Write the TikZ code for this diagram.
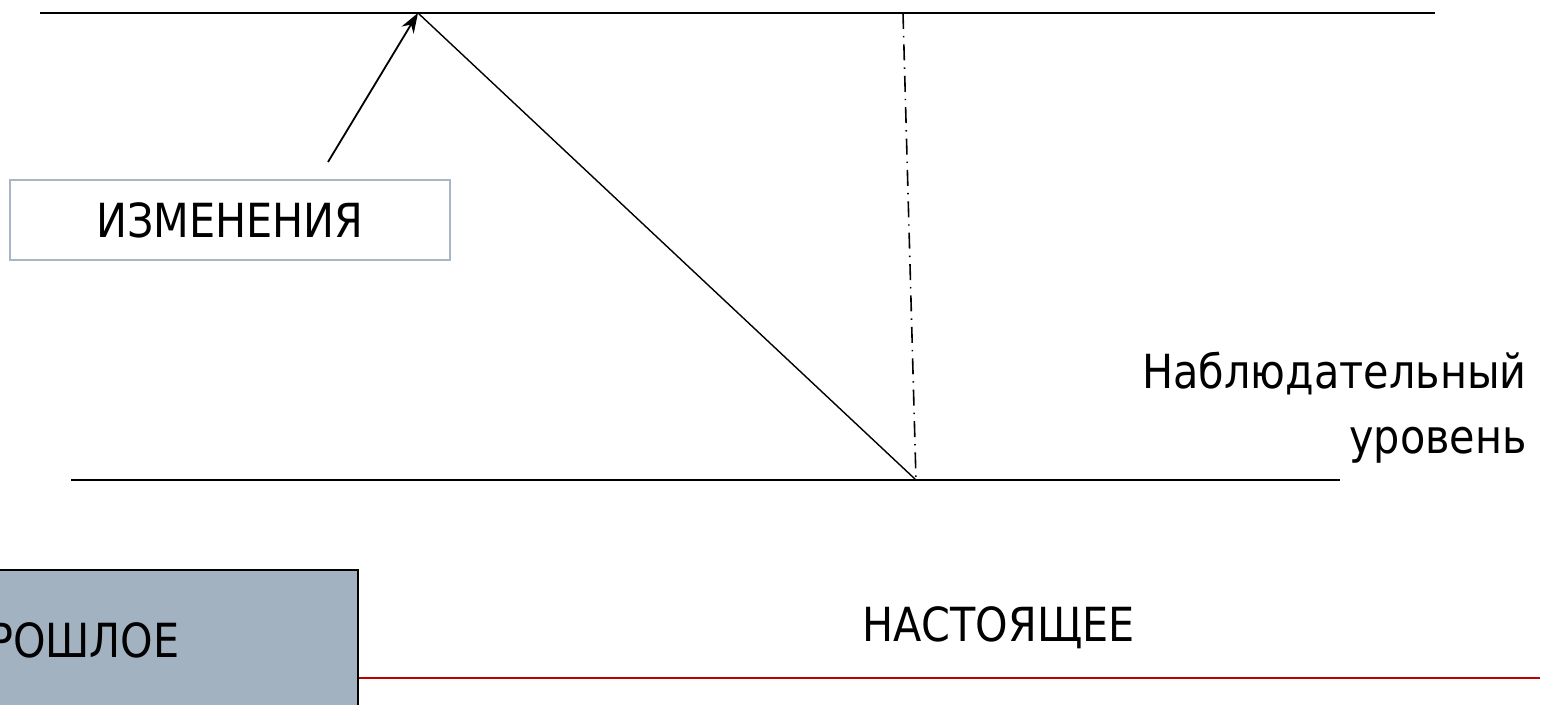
\documentclass[tikz,border=0pt]{standalone}
\usepackage{fontspec}
\setmainfont{DejaVu Sans}[FakeStretch=0.88]
\usetikzlibrary{arrows.meta, positioning}
\definecolor{pastGray}{HTML}{A3B2C1}
\definecolor{boxEdge}{HTML}{A9B6C6}
\definecolor{nowRed}{HTML}{C00000}

\begin{document}
\begin{tikzpicture}[
    x=0.5pt, y=-0.5pt,
    level/.style={line width=0.9pt},
    caption/.style={font=\fontsize{23.5}{32.5}\selectfont, inner sep=0pt, align=right},
    changebox/.style={draw=boxEdge, line width=0.6pt, minimum width=220pt, minimum height=40pt, inner sep=0pt, font=\fontsize{23.5}{28}\selectfont},
    pastbox/.style={draw=black, line width=0.6pt, fill=pastGray, minimum width=290pt, minimum height=80pt},
]
    \useasboundingbox (0,0) rectangle (1553,705);
    \clip (0,0) rectangle (1553,705);

    % Levels
    \coordinate (topL) at (40,13);
    \coordinate (topR) at (1435,13);
    \coordinate (peak) at (418,13);
    \coordinate (mark) at (903,13);
    \coordinate (botL) at (71,480);
    \coordinate (botR) at (1340,480);
    \coordinate (foot) at (916,480);
    \draw[level] (topL) -- (topR);
    \draw[level, line width=1.1pt] (botL) -- (botR);
    \draw[level, line width=0.7pt] (peak) -- (foot);
    \draw[line width=0.8pt, dash pattern=on 8pt off 3.5pt on 0.7pt off 3.5pt] (mark) -- (foot);

    % Change box
    \node[changebox] (change) at (230,220) {ИЗМЕНЕНИЯ};
    \coordinate (tail) at (328,162);
    \draw[level, -{Stealth[length=10pt, width=7pt]}] (tail) -- (peak);

    % Observation level
    \node[caption, anchor=east] (observe) at (1527,408) {Наблюдательный\\уровень};

    % Past and present
    \node[pastbox] (past) at (68,650) {};
    \node[font=\fontsize{23.5}{28}\selectfont, anchor=east, inner sep=0pt] (pastlabel) at (180,640) {ПРОШЛОЕ};
    \coordinate (nowR) at (1540,678);
    \draw[nowRed, line width=1pt] (past.east |- nowR) -- (nowR);
    \node[font=\fontsize{23.5}{28}\selectfont, anchor=west, inner sep=0pt] (present) at (862,628) {НАСТОЯЩЕЕ};
\end{tikzpicture}
\end{document}
